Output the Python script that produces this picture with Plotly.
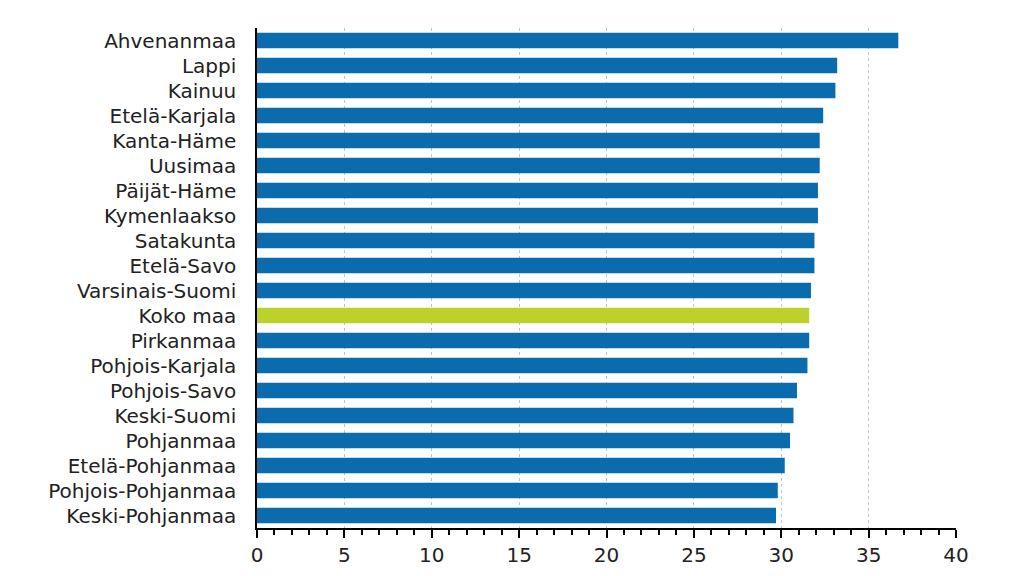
import plotly.graph_objects as go

# regions, top to bottom as in the chart
regions = ['Ahvenanmaa', 'Lappi', 'Kainuu', 'Etelä-Karjala', 'Kanta-Häme',
           'Uusimaa', 'Päijät-Häme', 'Kymenlaakso', 'Satakunta', 'Etelä-Savo',
           'Varsinais-Suomi', 'Koko maa', 'Pirkanmaa', 'Pohjois-Karjala',
           'Pohjois-Savo', 'Keski-Suomi', 'Pohjanmaa', 'Etelä-Pohjanmaa',
           'Pohjois-Pohjanmaa', 'Keski-Pohjanmaa']
values = [36.7, 33.2, 33.1, 32.4, 32.2,
          32.2, 32.1, 32.1, 31.9, 31.9,
          31.7, 31.6, 31.6, 31.5,
          30.9, 30.7, 30.5, 30.2,
          29.8, 29.7]
highlight = 'Koko maa'

blue = '#0a6cad'
green = '#bdd12b'
colors = [green if r == highlight else blue for r in regions]

fig = go.Figure(go.Bar(
    x=values,
    y=regions,
    orientation='h',
    marker=dict(color=colors, line=dict(width=0)),
    hovertemplate='%{y}: %{x}<extra></extra>',
))

# page body adds ~8px offset, margins compensate
fig.update_layout(
    width=1024, height=576,
    margin=dict(l=249, r=76, t=20, b=56),
    paper_bgcolor='white', plot_bgcolor='white',
    font=dict(family='DejaVu Sans, sans-serif', size=20, color='#222'),
    bargap=0.38,
    showlegend=False,
)

fig.update_xaxes(
    range=[0, 40], dtick=5, tick0=0,
    showgrid=True, gridcolor='#c4c4c4', griddash='dot', gridwidth=1,
    showline=True, linecolor='black', linewidth=1.5,
    ticks='outside', ticklen=8, tickcolor='black', tickwidth=1.5,
    minor=dict(dtick=1, ticks='outside', ticklen=5, tickcolor='black', showgrid=False),
    zeroline=False,
    tickfont=dict(size=20),
)

fig.update_yaxes(
    autorange='reversed',
    showline=True, linecolor='black', linewidth=1.5,
    ticks='', showgrid=False,
    ticklabelstandoff=15,
    tickfont=dict(size=20),
)

fig.write_html('out.html')
